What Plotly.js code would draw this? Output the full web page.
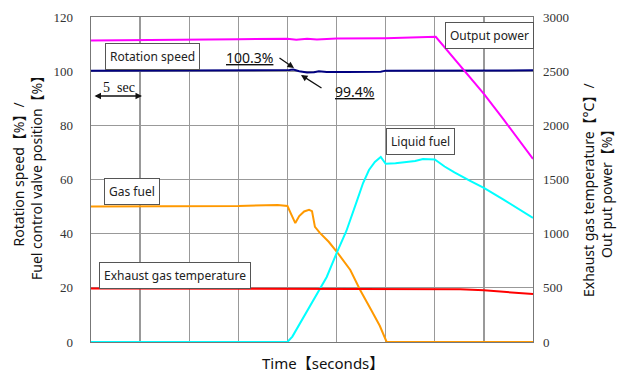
<!DOCTYPE html>
<html>
<head>
<meta charset="utf-8">
<script src="https://cdn.plot.ly/plotly-3.0.1.min.js"></script>
<style>html,body{margin:0;padding:0;background:#fff;}#chart{width:617px;height:372px;}</style>
</head>
<body>
<div id="chart"></div>
<script>
// Time axis (seconds)
const xRange = [0, 45];

// Output power (left-axis scale, %)
const powerT = [0, 5, 10, 15, 20, 20.9, 22, 23, 25, 30, 35.1, 37.9, 40, 42, 45];
const powerV = [111.3, 111.4, 111.5, 111.8, 112.0, 111.6, 112.0, 111.7, 112.1, 112.2, 112.7, 100.8, 91.6, 82.2, 67.6];

// Rotation speed (%)
const speedT = [0, 10, 19.5, 20.2, 20.6, 21.2, 22, 22.7, 23.2, 24, 26, 28, 29.5, 30, 35, 40, 45];
const speedV = [100.2, 100.2, 100.2, 100.4, 100.6, 100.0, 99.5, 99.6, 100.0, 99.7, 99.7, 99.7, 99.8, 100.2, 100.3, 100.3, 100.3];

// Gas fuel valve position (%)
const gasT = [0, 5, 10, 15, 19, 20, 20.4, 20.8, 21.2, 21.7, 22.2, 22.5, 22.8, 23.3, 24.2, 25.05, 26.4, 27.4, 28.5, 29.4, 30.1, 35, 40, 45];
const gasV = [50, 50, 50, 50.2, 50.6, 50.2, 47, 43.9, 46.5, 48.2, 48.8, 48.3, 42.5, 40.3, 37, 33.2, 26.6, 19.2, 12, 6, 0, 0, 0, 0];

// Liquid fuel valve position (%)
const liqT = [0, 20, 20.5, 21.3, 22, 23.3, 24, 25.05, 26, 27.1, 27.7, 28.3, 28.9, 29.5, 30.0, 31, 32, 33, 33.8, 35, 36, 37, 38.6, 40, 42, 43.5, 45];
const liqV = [0, 0, 2, 7, 11.5, 19.2, 24, 33.2, 41, 52.4, 58.7, 63.5, 66.5, 68.3, 65.8, 66, 66.4, 66.8, 67.6, 67.4, 64.8, 62.6, 59.5, 56.9, 52.6, 49.2, 45.8];

// Exhaust gas temperature (°C, right axis)
const exhT = [0, 10, 20, 25, 30, 35, 37.6, 40, 42.5, 45];
const exhV = [495, 495, 494, 493, 492, 491, 488, 477, 462, 443];

// Tick labels
const leftTicks = [0, 20, 40, 60, 80, 100, 120];
const rightTicks = [0, 500, 1000, 1500, 2000, 2500, 3000];

const W = 617, H = 372, L = 91, R = 533, T = 17, B = 342;
const px = x => (x - L) / (R - L);
const py = y => (B - y) / (B - T);

const sansFont = '"Noto Sans", "Noto Sans CJK JP", sans-serif';
const serifFont = '"Liberation Serif", "DejaVu Serif", serif';

function line(x, y, color, axis) {
  return {x: x, y: y, type: 'scatter', mode: 'lines', yaxis: axis || 'y',
          line: {color: color, width: 2}, hoverinfo: 'skip', showlegend: false};
}

const data = [
  line(exhT, exhV, '#ff0000', 'y2'),
  line(gasT, gasV, '#ff9900'),
  line(liqT, liqV, '#00ffff'),
  line(speedT, speedV, '#000080'),
  line(powerT, powerV, '#ff00ff')
];

function box(text, x0, y0) {
  return {xref: 'paper', yref: 'paper', x: px(x0), y: py(y0), xanchor: 'left', yanchor: 'top',
          text: text, showarrow: false, font: {family: sansFont, size: 12, color: '#222'},
          bgcolor: '#ffffff', bordercolor: '#555', borderwidth: 1, borderpad: 4};
}

function arrow(x0, y0, x1, y1, both) {
  return {xref: 'paper', yref: 'paper', x: px(x1), y: py(y1), axref: 'pixel', ayref: 'pixel',
          ax: x0 - x1, ay: y0 - y1, text: '', showarrow: true, arrowhead: 2, arrowsize: 1,
          arrowwidth: 1.3, arrowcolor: '#111', arrowside: both ? 'end+start' : 'end',
          startarrowhead: 2, startarrowsize: 1};
}

const annotations = [
  box('Rotation speed', 105, 43),
  box('Output power', 445, 22),
  box('Liquid fuel', 386, 128),
  box('Gas fuel', 104, 178),
  box('Exhaust gas temperature', 99, 262),
  {xref: 'paper', yref: 'paper', x: px(249), y: py(57), xanchor: 'center', yanchor: 'middle',
   text: '<u>100.3%</u>', showarrow: false, font: {family: sansFont, size: 14, color: '#111'}},
  {xref: 'paper', yref: 'paper', x: px(354), y: py(92), xanchor: 'center', yanchor: 'middle',
   text: '<u>99.4%</u>', showarrow: false, font: {family: sansFont, size: 14, color: '#111'}},
  arrow(278, 57, 294, 68),
  arrow(323, 89, 301, 75),
  arrow(93, 96, 142, 96, true),
  {xref: 'paper', yref: 'paper', x: px(119), y: py(87), xanchor: 'center', yanchor: 'middle',
   text: '5  sec', showarrow: false, font: {family: serifFont, size: 14, color: '#111'}},
  // axis titles
  {xref: 'paper', yref: 'paper', x: px(323), y: py(363), xanchor: 'center', yanchor: 'middle',
   text: 'Time【seconds】', showarrow: false, font: {family: sansFont, size: 15, color: '#111'}},
  {xref: 'paper', yref: 'paper', x: px(27), y: py(175), xanchor: 'center', yanchor: 'middle',
   textangle: -90, text: 'Rotation speed【%】/<br>Fuel control valve position【%】', showarrow: false,
   font: {family: sansFont, size: 14, color: '#111'}},
  {xref: 'paper', yref: 'paper', x: px(597), y: py(190), xanchor: 'center', yanchor: 'middle',
   textangle: -90, text: 'Exhaust gas temperature【°C】/<br>Out put power【%】', showarrow: false,
   font: {family: sansFont, size: 14, color: '#111'}}
];

const layout = {
  width: W, height: H,
  margin: {l: L, r: W - R, t: T, b: H - B, pad: 0},
  paper_bgcolor: '#ffffff', plot_bgcolor: '#ffffff',
  showlegend: false,
  xaxis: {range: xRange, dtick: 5, tick0: 0, showticklabels: false, ticks: '',
          showgrid: true, gridcolor: '#999', gridwidth: 1.3, zeroline: false,
          showline: true, linecolor: '#777', linewidth: 1.3, mirror: true, fixedrange: true},
  yaxis: {range: [0, 120], tickvals: leftTicks, ticktext: leftTicks.map(String), ticks: '',
          ticklabelstandoff: 14,
          tickfont: {family: serifFont, size: 13, color: '#333'},
          showgrid: true, gridcolor: '#999', gridwidth: 1.3, zeroline: false,
          showline: true, linecolor: '#777', linewidth: 1.3, mirror: true, fixedrange: true},
  yaxis2: {range: [0, 3000], overlaying: 'y', side: 'right', tickvals: rightTicks,
           ticktext: rightTicks.map(String), ticks: '', ticklabelstandoff: 9,
           tickfont: {family: serifFont, size: 13, color: '#333'},
           showgrid: false, zeroline: false, showline: false, fixedrange: true},
  annotations: annotations
};

Plotly.newPlot('chart', data, layout, {displayModeBar: false, staticPlot: true});
</script>
</body>
</html>
